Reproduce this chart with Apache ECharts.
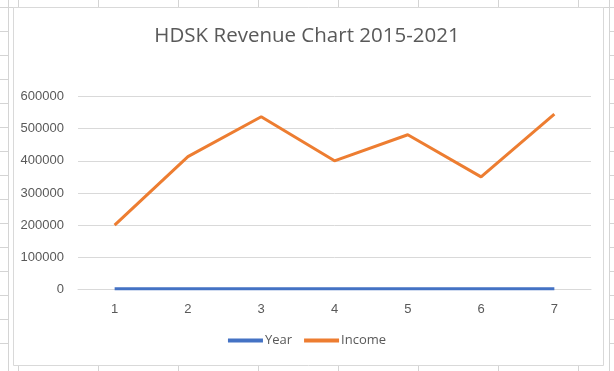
<!DOCTYPE html>
<html>
<head>
<meta charset="utf-8">
<script src="https://cdn.jsdelivr.net/npm/echarts@6/dist/echarts.min.js"></script>
<style>
html,body{margin:0;padding:0;background:#fff;}
#c{width:614px;height:371px;}
</style>
</head>
<body>
<div id="c"></div>
<script>
const categories = ['1','2','3','4','5','6','7'];
const yearValues = [2015, 2016, 2017, 2018, 2019, 2020, 2021];
const incomeValues = [200000, 413000, 537000, 400000, 481000, 350000, 545000];
const yTicks = {min: 0, max: 600000, interval: 100000};

const chart = echarts.init(document.getElementById('c'), null, {renderer: 'canvas'});

// spreadsheet background grid (decoration)
const bg = [];
const lineStyle = {stroke: '#d4d4d4', lineWidth: 1};
[18, 98, 178, 258, 338, 418, 498, 578].forEach(x => {
  bg.push({type: 'line', shape: {x1: x + 0.5, y1: 0, x2: x + 0.5, y2: 7}, style: lineStyle, silent: true});
  bg.push({type: 'line', shape: {x1: x + 0.5, y1: 366, x2: x + 0.5, y2: 371}, style: lineStyle, silent: true});
});
[31, 55, 79, 103, 127, 151, 175, 199, 223, 247, 271, 295, 319, 343].forEach(y => {
  bg.push({type: 'line', shape: {x1: 0, y1: y + 0.5, x2: 8, y2: y + 0.5}, style: lineStyle, silent: true});
  bg.push({type: 'line', shape: {x1: 609, y1: y + 0.5, x2: 614, y2: y + 0.5}, style: lineStyle, silent: true});
});
bg.push({type: 'line', shape: {x1: 0, y1: 7.5, x2: 614, y2: 7.5}, style: lineStyle, silent: true});
bg.push({type: 'line', shape: {x1: 8.5, y1: 0, x2: 8.5, y2: 371}, style: lineStyle, silent: true});
bg.push({type: 'line', shape: {x1: 609.5, y1: 0, x2: 609.5, y2: 371}, style: lineStyle, silent: true});
bg.push({type: 'rect', shape: {x: 13.5, y: 7.5, width: 590, height: 358}, style: {fill: '#fff', stroke: '#d9d9d9', lineWidth: 1}, silent: true});

chart.setOption({
  animation: false,
  backgroundColor: '#fff',
  graphic: {elements: bg},
  title: {
    text: 'HDSK Revenue Chart 2015-2021',
    left: 'center',
    top: 21,
    textStyle: {color: '#595959', fontSize: 20.5, fontWeight: 'normal', fontFamily: 'Open Sans'}
  },
  legend: {
    data: ['Year', 'Income'],
    bottom: 19,
    left: 'center',
    icon: 'rect',
    itemWidth: 35,
    itemHeight: 4,
    itemGap: 12,
    textStyle: {color: '#595959', fontSize: 13, fontFamily: 'Open Sans', padding: [0, 0, 0, -3]}
  },
  grid: {left: 78, right: 23, top: 96.5, bottom: 81.5, containLabel: false},
  xAxis: {
    type: 'category',
    data: categories,
    boundaryGap: true,
    axisLine: {show: true, lineStyle: {color: '#d9d9d9'}},
    axisTick: {show: false},
    axisLabel: {color: '#595959', fontSize: 13, margin: 13, fontFamily: 'Liberation Sans'}
  },
  yAxis: {
    type: 'value',
    min: yTicks.min,
    max: yTicks.max,
    interval: yTicks.interval,
    axisLine: {show: false},
    axisTick: {show: false},
    splitLine: {lineStyle: {color: '#d9d9d9'}},
    axisLabel: {color: '#595959', fontSize: 13, margin: 14, fontFamily: 'Liberation Sans', formatter: v => String(v)}
  },
  series: [
    {name: 'Year', type: 'line', data: yearValues, symbol: 'none', lineStyle: {color: '#4472C4', width: 3}, itemStyle: {color: '#4472C4'}},
    {name: 'Income', type: 'line', data: incomeValues, symbol: 'none', lineStyle: {color: '#ED7D31', width: 3}, itemStyle: {color: '#ED7D31'}}
  ]
});
</script>
</body>
</html>
